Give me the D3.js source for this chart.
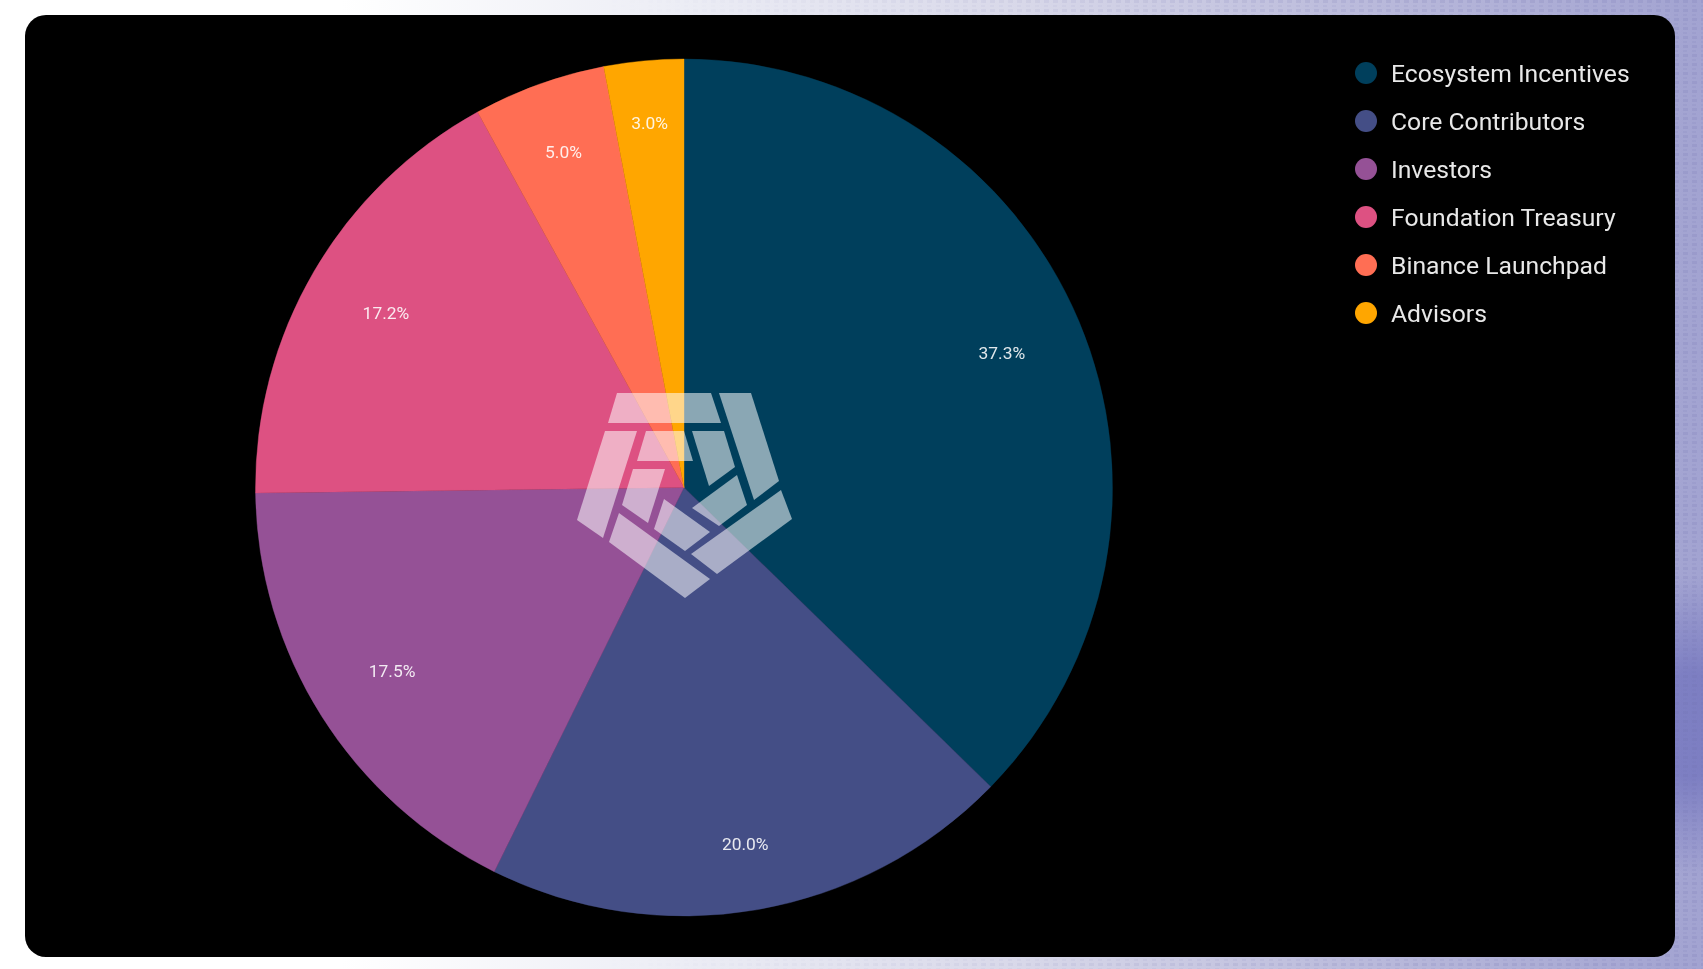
<!DOCTYPE html>
<html>
<head>
<meta charset="utf-8">
<title>Token allocation</title>
<script src="https://cdn.jsdelivr.net/npm/d3@7/dist/d3.min.js"></script>
<style>
  html, body { margin: 0; padding: 0; background: #fff; overflow: hidden; }
  svg { display: block; font-family: Roboto, sans-serif; filter: blur(0.45px); }
</style>
</head>
<body>
<div id="chart-area"></div>
<script>
const categories = ["Ecosystem Incentives", "Core Contributors", "Investors", "Foundation Treasury", "Binance Launchpad", "Advisors"];
const shares = [37.3, 20.0, 17.5, 17.2, 5.0, 3.0];
const colors = ["#003f5c", "#444e86", "#955196", "#dd5182", "#ff6e54", "#ffa600"];

const width = 1703;
const height = 969;
const panel = { left: 25, top: 15, right: 1675, bottom: 957, corner: 21 };
const center = { x: 684, y: 487.5 };
const radius = 428.5;

const svg = d3.select("#chart-area")
  .append("svg")
    .attr("width", width)
    .attr("height", height);

const defs = svg.append("defs");

// page background behind the panel
const fade = defs.append("linearGradient").attr("id", "fade");
[[0, "#ffffff"], [0.2, "#ffffff"], [0.4, "#ecedf5"], [0.6, "#d8d8e9"], [0.8, "#babadb"], [1, "#a2a3d1"]]
  .forEach((s) => fade.append("stop").attr("offset", s[0]).attr("stop-color", s[1]));

const blob = defs.append("radialGradient").attr("id", "blob");
blob.append("stop").attr("offset", 0.35).attr("stop-color", "#6466b8").attr("stop-opacity", 0.6);
blob.append("stop").attr("offset", 1).attr("stop-color", "#6466b8").attr("stop-opacity", 0);

const weave = defs.append("pattern")
  .attr("id", "weave")
  .attr("width", 9)
  .attr("height", 9)
  .attr("patternUnits", "userSpaceOnUse");
weave.append("rect").attr("width", 5).attr("height", 3).attr("fill", "#6f70b0").attr("opacity", 0.16);
weave.append("rect").attr("y", 5).attr("width", 4).attr("height", 2).attr("fill", "#6f70b0").attr("opacity", 0.1);

svg.append("rect").attr("width", width).attr("height", height).attr("fill", "url(#fade)");
svg.append("ellipse")
  .attr("cx", 1690).attr("cy", 725)
  .attr("rx", 85).attr("ry", 150)
  .attr("fill", "url(#blob)");
const weaveMask = defs.append("linearGradient").attr("id", "weave-fade");
weaveMask.append("stop").attr("offset", 0.35).attr("stop-color", "#fff").attr("stop-opacity", 0);
weaveMask.append("stop").attr("offset", 0.85).attr("stop-color", "#fff").attr("stop-opacity", 1);
defs.append("mask").attr("id", "weave-mask")
  .append("rect").attr("width", width).attr("height", height).attr("fill", "url(#weave-fade)");
svg.append("rect")
  .attr("width", width).attr("height", height)
  .attr("fill", "url(#weave)")
  .attr("mask", "url(#weave-mask)");

svg.append("rect")
  .attr("x", panel.left)
  .attr("y", panel.top)
  .attr("width", panel.right - panel.left)
  .attr("height", panel.bottom - panel.top)
  .attr("rx", panel.corner)
  .attr("fill", "#000");

const color = d3.scaleOrdinal().domain(categories).range(colors);

const pie = d3.pie().sort(null).value((d) => d.share);
const arc = d3.arc().innerRadius(0).outerRadius(radius);
const slices = pie(categories.map((name, i) => ({ name: name, share: shares[i] })));

const g = svg.append("g")
  .attr("transform", "translate(" + center.x + "," + center.y + ")");

g.selectAll("path.slice")
  .data(slices)
  .enter()
  .append("path")
    .attr("class", "slice")
    .attr("d", arc)
    .attr("fill", (d) => color(d.data.name))
    .attr("stroke", (d) => color(d.data.name))
    .attr("stroke-width", 0.4);

// labels sit further out on slices near the vertical, where the box has room
function labelPos(d) {
  const mid = (d.startAngle + d.endAngle) / 2;
  const r = 345 + 21 * Math.pow(Math.abs(Math.cos(mid)), 11);
  return [Math.sin(mid) * r, -Math.cos(mid) * r];
}

g.selectAll("text.pct")
  .data(slices)
  .enter()
  .append("text")
    .attr("class", "pct")
    .attr("x", (d) => labelPos(d)[0])
    .attr("y", (d) => labelPos(d)[1])
    .attr("dy", "0.3em")
    .attr("text-anchor", "middle")
    .attr("font-size", "17.4px")
    .attr("fill", "#fff")
    .attr("fill-opacity", 0.88)
    .text((d) => d.data.share.toFixed(1) + "%");

// logo on top of the pie, points in page pixels
const logoShapes = [
  [[617, 393], [711, 393], [721, 423], [608, 423]],
  [[719, 393], [751, 393], [779, 481], [754, 500]],
  [[605, 431], [637, 431], [603, 538], [577, 520]],
  [[646, 431], [684, 431], [693, 461], [637, 461]],
  [[692, 431], [724, 431], [735, 467], [709, 486]],
  [[633, 469], [665, 469], [648, 523], [622, 505]],
  [[737, 475], [747, 505], [719, 526], [692, 508]],
  [[664, 499], [710, 532], [685, 551], [654, 529]],
  [[781, 490], [792, 519], [717, 574], [691, 554]],
  [[619, 513], [710, 579], [685, 598], [609, 542]]
];

svg.append("g")
  .selectAll("path")
  .data(logoShapes)
  .enter()
  .append("path")
    .attr("d", (d) => d3.line()(d) + "Z")
    .attr("fill", "#fff")
    .attr("fill-opacity", 0.54);

// legend
const legendY = d3.scalePoint().domain(categories).range([73, 313]);

const legend = svg.append("g")
  .selectAll("g")
  .data(categories)
  .enter()
  .append("g")
    .attr("transform", (d) => "translate(1366," + legendY(d) + ")");

legend.append("circle")
  .attr("r", 11)
  .attr("fill", (d) => color(d));

legend.append("text")
  .attr("x", 25)
  .attr("dy", "0.35em")
  .attr("font-size", "24.7px")
  .attr("fill", "#e8e8e8")
  .text((d) => d);
</script>
</body>
</html>
